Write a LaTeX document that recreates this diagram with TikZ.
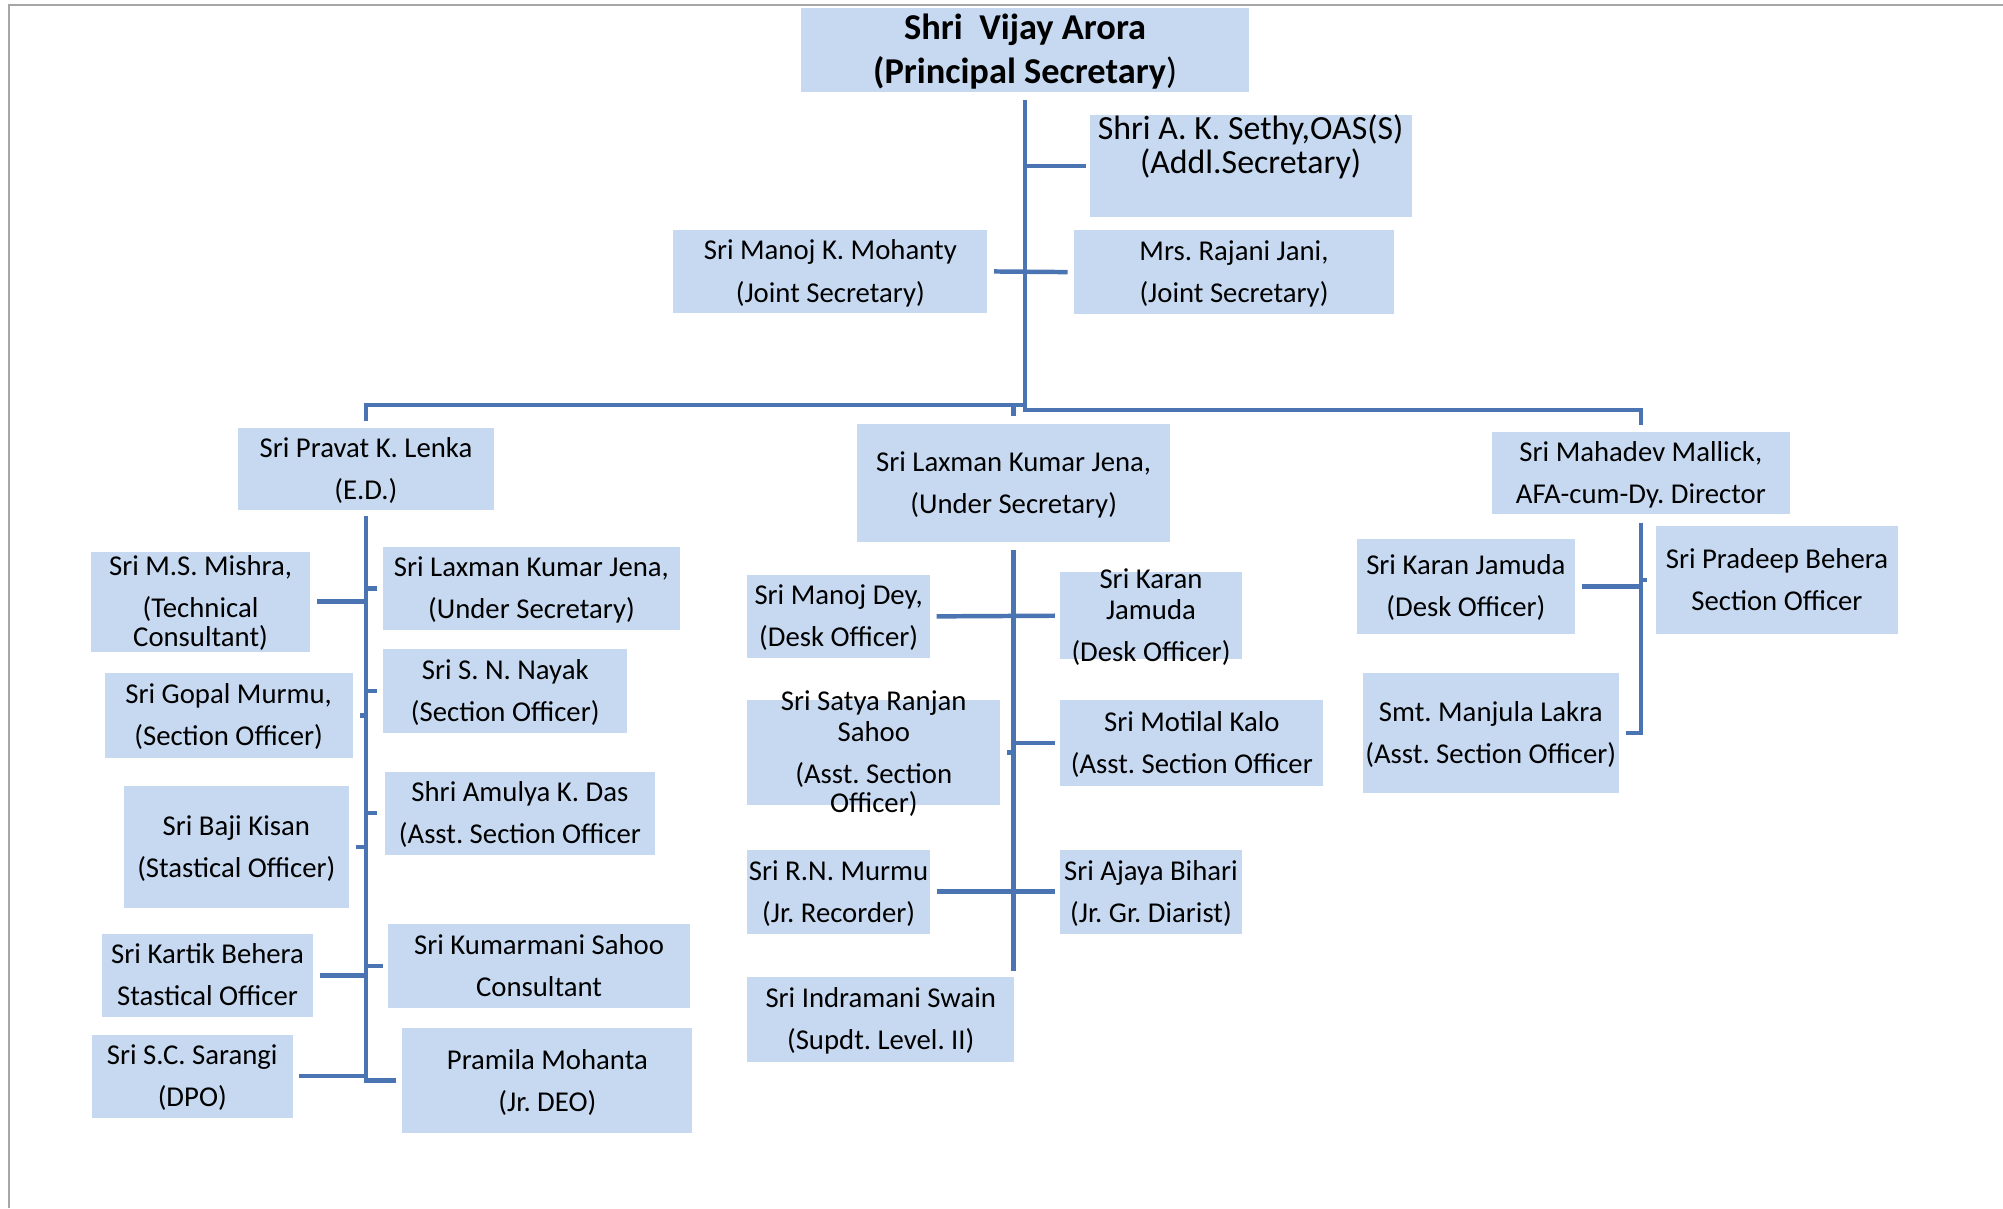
\documentclass[tikz,border=0pt]{standalone}
\usepackage{fontspec}
\setmainfont{Carlito}
\frenchspacing
\definecolor{boxblue}{RGB}{198,217,241}
\definecolor{linkblue}{RGB}{74,116,178}
\newcommand{\boxfont}{\fontsize{22.5}{33}\selectfont}
\newcommand{\topfont}{\fontsize{28.5}{34}\selectfont}
\newcommand{\addlfont}{\fontsize{26.5}{24}\selectfont}
\newcommand{\boxtext}[2][-6pt]{\smash{\raisebox{#1}{\begin{tabular}{@{}c@{}}#2\end{tabular}}}}

\begin{document}
\begin{tikzpicture}[x=1pt,y=-1pt,
    box/.style 2 args={fill=boxblue,inner sep=0pt,minimum width=#1,minimum height=#2,font=\boxfont},
    link/.style={draw=linkblue,line width=3.5pt}]
    \useasboundingbox (0,0) rectangle (1568,946);
    \draw[gray!70,line width=1.5pt] (7,946) -- (7,4) -- (1568,4);

    % top
    \node[box={351}{66},font=\topfont] (vijay) at (802.5,39) {\boxtext[-8.5pt]{\textbf{Shri\ \ Vijay Arora}\\\textbf{(Principal Secretary}{)}}};
    \node[box={252}{80},font=\addlfont] (sethy) at (979,130) {\boxtext[-5pt]{Shri A. K. Sethy,OAS(S)\\(Addl.Secretary)\\\mbox{}}};
    \node[box={246}{65}] (mohanty) at (650,212.5) {\boxtext{Sri Manoj K. Mohanty\\(Joint Secretary)}};
    \node[box={250}{66}] (rajani) at (966,213) {\boxtext{Mrs. Rajani Jani,\\(Joint Secretary)}};

    \node[box={201}{64}] (lenka) at (286.5,367) {\boxtext{Sri Pravat K. Lenka\\(E.D.)}};
    \node[box={245}{92}] (jena) at (793.5,378) {\boxtext{Sri Laxman Kumar Jena,\\(Under Secretary)}};
    \node[box={233}{64}] (mallick) at (1284.5,370) {\boxtext{Sri Mahadev Mallick,\\AFA-cum-Dy. Director}};

    % under lenka
    \node[box={172}{78}] (mishra) at (157,471) {\boxtext{Sri M.S. Mishra,\\(Technical\\[-10pt]Consultant)}};
    \node[box={232}{65}] (jenatwo) at (416,460.5) {\boxtext{Sri Laxman Kumar Jena,\\(Under Secretary)}};
    \node[box={194}{66}] (gopal) at (179,560) {\boxtext{Sri Gopal Murmu,\\(Section Officer)}};
    \node[box={191}{66}] (nayak) at (395.5,541) {\boxtext{Sri S. N. Nayak\\(Section Officer)}};
    \node[box={176}{96}] (baji) at (185,663) {\boxtext{Sri Baji Kisan\\(Stastical Officer)}};
    \node[box={212}{65}] (amulya) at (407,636.5) {\boxtext{Shri Amulya K. Das\\(Asst. Section Officer}};
    \node[box={165}{65}] (kartik) at (162.5,763.5) {\boxtext{Sri Kartik Behera\\Stastical Officer}};
    \node[box={236}{66}] (kumarmani) at (422,756) {\boxtext{Sri Kumarmani Sahoo\\Consultant}};
    \node[box={157}{65}] (sarangi) at (150.5,842.5) {\boxtext{Sri S.C. Sarangi\\(DPO)}};
    \node[box={227}{82}] (pramila) at (428.5,846) {\boxtext{Pramila Mohanta\\(Jr. DEO)}};

    % under jena
    \node[box={143}{65}] (dey) at (656.5,482.5) {\boxtext{Sri Manoj Dey,\\(Desk Officer)}};
    \node[box={142}{68}] (karan) at (901,482) {\boxtext{Sri Karan\\[-9pt]Jamuda\\(Desk Officer)}};
    \node[box={198}{82}] (satya) at (684,589) {\boxtext{Sri Satya Ranjan\\[-9pt]Sahoo\\(Asst. Section\\[-10pt]Officer)}};
    \node[box={206}{67}] (motilal) at (933,581.5) {\boxtext{Sri Motilal Kalo\\(Asst. Section Officer}};
    \node[box={143}{66}] (murmu) at (656.5,698) {\boxtext{Sri R.N. Murmu\\(Jr. Recorder)}};
    \node[box={142}{66}] (ajaya) at (901,698) {\boxtext{Sri Ajaya Bihari\\(Jr. Gr. Diarist)}};
    \node[box={209}{66}] (swain) at (689.5,798) {\boxtext{Sri Indramani Swain\\(Supdt. Level. II)}};

    % under mallick
    \node[box={171}{74}] (jamuda) at (1147.5,459) {\boxtext{Sri Karan Jamuda\\(Desk Officer)}};
    \node[box={190}{84}] (pradeep) at (1391,454) {\boxtext{Sri Pradeep Behera\\Section Officer}};
    \node[box={200}{94}] (lakra) at (1167,574) {\boxtext{Smt. Manjula Lakra\\(Asst. Section Officer)}};

    \coordinate (hub) at (802.5,321);
    \coordinate (hubL) at (802.5,317);
    \coordinate (jenaend) at (793.5,760);

    \draw[link] ([yshift=-6pt]vijay.south) -- (hub) -| ([yshift=5pt]mallick.north);
    \draw[link] (hubL) -| ([yshift=5pt]lenka.north);
    \draw[link] (jena.north |- hubL) -- ([yshift=6pt]jena.north);
    \draw[link] (vijay.south |- sethy.west) -- ([xshift=-3pt]sethy.west);
    \draw[link] ([xshift=5pt]mohanty.east) -- ([xshift=-5pt]rajani.west);

    \draw[link] ([yshift=-5pt]lenka.south) |- ([xshift=-5pt]pramila.west);
    \draw[link] ([xshift=5pt]mishra.east) -- (mishra.east -| lenka.south);
    \draw[link] (jenatwo.west -| lenka.south) -- ++(9,0);
    \draw[link] (nayak.west -| lenka.south) -- ++(9,0);
    \draw[link] (gopal.east -| lenka.south) -- ++(-5,0);
    \draw[link] (amulya.west -| lenka.south) -- ++(9,0);
    \draw[link] (baji.east -| lenka.south) -- ++(-8,0);
    \draw[link] (kumarmani.west -| lenka.south) -- ++(13,0);
    \draw[link] ([xshift=5pt]kartik.east) -- (kartik.east -| lenka.south);
    \draw[link] ([xshift=5pt]sarangi.east) -- (sarangi.east -| lenka.south);

    \draw[link] ([yshift=-6pt]jena.south) -- (jenaend);
    \draw[link] ([xshift=5pt]dey.east) -- ([xshift=-4pt]karan.west);
    \draw[link] (motilal.west -| jena.south) -- ([xshift=-4pt]motilal.west);
    \draw[link] (satya.east -| jena.south) -- ++(-5,0);
    \draw[link] ([xshift=5pt]murmu.east) -- ([xshift=-4pt]ajaya.west);

    \draw[link] ([yshift=-7pt]mallick.south) |- ([xshift=6pt]lakra.east);
    \draw[link] ([xshift=5pt]jamuda.east) -- (jamuda.east -| mallick.south);
    \draw[link] (pradeep.west -| mallick.south) -- ++(5,0);
\end{tikzpicture}
\end{document}
